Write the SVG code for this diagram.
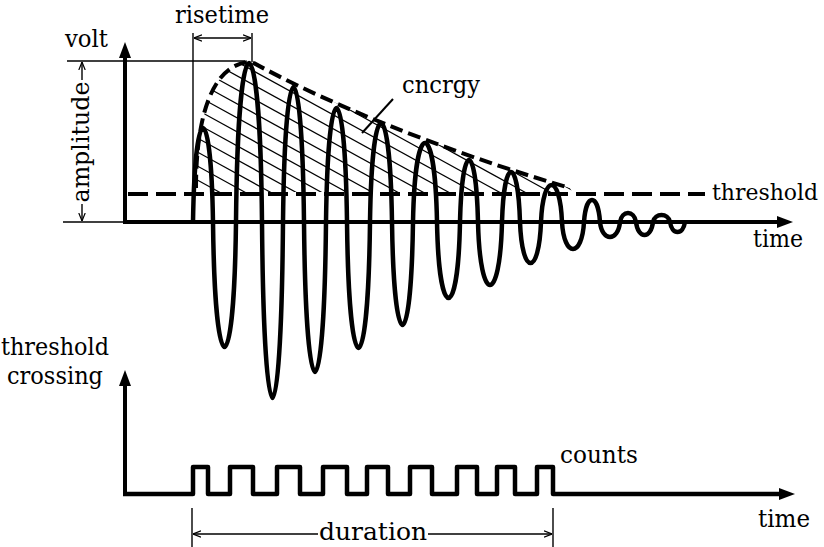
<svg xmlns="http://www.w3.org/2000/svg" width="824" height="547" viewBox="0 0 824 547">
<style>
.t{font-family:'DejaVu Serif','Liberation Serif',serif;font-size:25px;fill:#000}
.ax{stroke:#000;stroke-width:4;fill:none}
.thin{stroke:#000;stroke-width:1.4;fill:none}
.wave{stroke:#000;stroke-width:4.5;fill:none;stroke-linejoin:round}
.dash{stroke:#000;stroke-width:4;fill:none;stroke-dasharray:20 8}
.env{stroke:#000;stroke-width:4;fill:none;stroke-dasharray:13 6}
.hatch{stroke:#000;stroke-width:1.2}
</style>
<defs>
<marker id="oa" viewBox="0 0 10 10" refX="10" refY="5" markerWidth="8" markerHeight="8" markerUnits="userSpaceOnUse" orient="auto-start-reverse">
<path d="M0,1 L10,5 L0,9" fill="none" stroke="#000" stroke-width="1.5"/>
</marker>
<clipPath id="envclip">
<path d="M193,192 L197,186 C197,110 215,62 252,62 C320,100 440,150 570,188 L572,192 Z"/>
</clipPath>
</defs>
<rect width="824" height="547" fill="#fff"/>

<g id="upper-axes">
<line class="ax" x1="125" y1="222" x2="125" y2="55"/>
<polygon points="125,42 119,58 131,58" fill="#000"/>
<line class="ax" x1="123" y1="222" x2="780" y2="222"/>
<polygon points="793,222 777,216 777,228" fill="#000"/>
<text class="t" x="65" y="47" textLength="43" lengthAdjust="spacingAndGlyphs">volt</text>
<text class="t" x="753" y="247" textLength="50" lengthAdjust="spacingAndGlyphs">time</text>
</g>

<g id="threshold">
<line class="dash" x1="128" y1="194" x2="705" y2="194"/>
<text class="t" x="712" y="200" style="font-size:22.5px" textLength="106" lengthAdjust="spacingAndGlyphs">threshold</text>
</g>

<g id="hatching" clip-path="url(#envclip)">
<line class="hatch" x1="190" y1="190" x2="580" y2="404.5"/>
<line class="hatch" x1="190" y1="176" x2="580" y2="390.5"/>
<line class="hatch" x1="190" y1="162" x2="580" y2="376.5"/>
<line class="hatch" x1="190" y1="148" x2="580" y2="362.5"/>
<line class="hatch" x1="190" y1="134" x2="580" y2="348.5"/>
<line class="hatch" x1="190" y1="120" x2="580" y2="334.5"/>
<line class="hatch" x1="190" y1="106" x2="580" y2="320.5"/>
<line class="hatch" x1="190" y1="92" x2="580" y2="306.5"/>
<line class="hatch" x1="190" y1="78" x2="580" y2="292.5"/>
<line class="hatch" x1="190" y1="64" x2="580" y2="278.5"/>
<line class="hatch" x1="190" y1="50" x2="580" y2="264.5"/>
<line class="hatch" x1="190" y1="36" x2="580" y2="250.5"/>
<line class="hatch" x1="190" y1="22" x2="580" y2="236.5"/>
<line class="hatch" x1="190" y1="8" x2="580" y2="222.5"/>
<line class="hatch" x1="190" y1="-6" x2="580" y2="208.5"/>
<line class="hatch" x1="190" y1="-20" x2="580" y2="194.5"/>
<line class="hatch" x1="190" y1="-34" x2="580" y2="180.5"/>
<line class="hatch" x1="190" y1="-48" x2="580" y2="166.5"/>
<line class="hatch" x1="190" y1="-62" x2="580" y2="152.5"/>
<line class="hatch" x1="190" y1="-76" x2="580" y2="138.5"/>
<line class="hatch" x1="190" y1="-90" x2="580" y2="124.5"/>
<line class="hatch" x1="190" y1="-104" x2="580" y2="110.5"/>
<line class="hatch" x1="190" y1="-118" x2="580" y2="96.5"/>
<line class="hatch" x1="190" y1="-132" x2="580" y2="82.5"/>
<line class="hatch" x1="190" y1="-146" x2="580" y2="68.5"/>
</g>

<g id="envelope">
<path class="env" d="M196,188 C196,110 215,62 252,62 C320,100 440,150 570,188"/>
</g>

<g id="waveform">
<path class="wave" d="M193,222
C195,96.7 211,96.7 213,222
C215,388.7 234,388.7 236,222
C238,10 260,10 262,222
C264,456.7 281,456.7 283,222
C285,42 302,42 304,222
C306,422 324,422 326,222
C328,70 345,70 347,222
C349,390 368,390 370,222
C372,90 390,90 392,222
C394,359.3 411,359.3 413,222
C415,116.7 435,116.7 437,222
C439,323.3 458,323.3 460,222
C462,139.3 476,139.3 478,222
C480,306 500,306 502,222
C504,155.3 518,155.3 520,222
C522,276.7 539,276.7 541,222
C543,172.7 560,172.7 562,222
C564,258 582,258 584,222
C586,192.7 598,192.7 600,222
C602,242 618,242 620,222
C622,210 634,210 636,222
C638,239.3 651,239.3 653,222
C655,212.7 668,212.7 670,222
C672,235.3 683,235.3 685,222"/>
</g>

<g id="energy-label">
<line x1="362" y1="133" x2="393" y2="99" stroke="#000" stroke-width="2"/>
<text class="t" x="402" y="93" textLength="78" lengthAdjust="spacingAndGlyphs">cncrgy</text>
</g>

<g id="amplitude">
<line class="thin" x1="67" y1="61" x2="245" y2="61"/>
<line class="thin" x1="63" y1="222" x2="125" y2="222"/>
<line class="thin" x1="82" y1="80" x2="82" y2="62" marker-end="url(#oa)"/>
<line class="thin" x1="82" y1="204" x2="82" y2="221" marker-end="url(#oa)"/>
<text class="t" transform="translate(89,142) rotate(-90)" text-anchor="middle" textLength="121" lengthAdjust="spacingAndGlyphs">amplitude</text>
</g>

<g id="risetime">
<line class="thin" x1="193" y1="33" x2="193" y2="222"/>
<line class="thin" x1="252" y1="33" x2="252" y2="62"/>
<line class="thin" x1="194" y1="38" x2="251" y2="38" marker-start="url(#oa)" marker-end="url(#oa)"/>
<text class="t" x="222" y="23" text-anchor="middle" textLength="94" lengthAdjust="spacingAndGlyphs">risetime</text>
</g>

<g id="lower-axes">
<line class="ax" x1="125" y1="496" x2="125" y2="383"/>
<polygon points="125,370 119,386 131,386" fill="#000"/>
<text class="t" x="55" y="355" text-anchor="middle" textLength="108" lengthAdjust="spacingAndGlyphs">threshold</text>
<text class="t" x="55" y="384" text-anchor="middle" textLength="96" lengthAdjust="spacingAndGlyphs">crossing</text>
<polygon points="795,494 779,488 779,500" fill="#000"/>
<text class="t" x="758" y="527" textLength="52" lengthAdjust="spacingAndGlyphs">time</text>
</g>

<g id="counts">
<path class="wave" stroke-linejoin="miter" d="M123,494 H193 V467 H208 V494 H230 V467 H253 V494 H277 V467 H300 V494 H323 V467 H347 V494 H367 V467 H388 V494 H410 V467 H432 V494 H457 V467 H477 V494 H497 V467 H515 V494 H537 V467 H553 V494 H782"/>
<text class="t" x="560" y="463" textLength="78" lengthAdjust="spacingAndGlyphs">counts</text>
</g>

<g id="duration">
<line class="thin" x1="192" y1="508" x2="192" y2="547"/>
<line class="thin" x1="553" y1="508" x2="553" y2="547"/>
<line class="thin" x1="318" y1="534" x2="193" y2="534" marker-end="url(#oa)"/>
<line class="thin" x1="428" y1="534" x2="552" y2="534" marker-end="url(#oa)"/>
<text class="t" x="373" y="540" text-anchor="middle" textLength="108" lengthAdjust="spacingAndGlyphs">duration</text>
</g>
</svg>
